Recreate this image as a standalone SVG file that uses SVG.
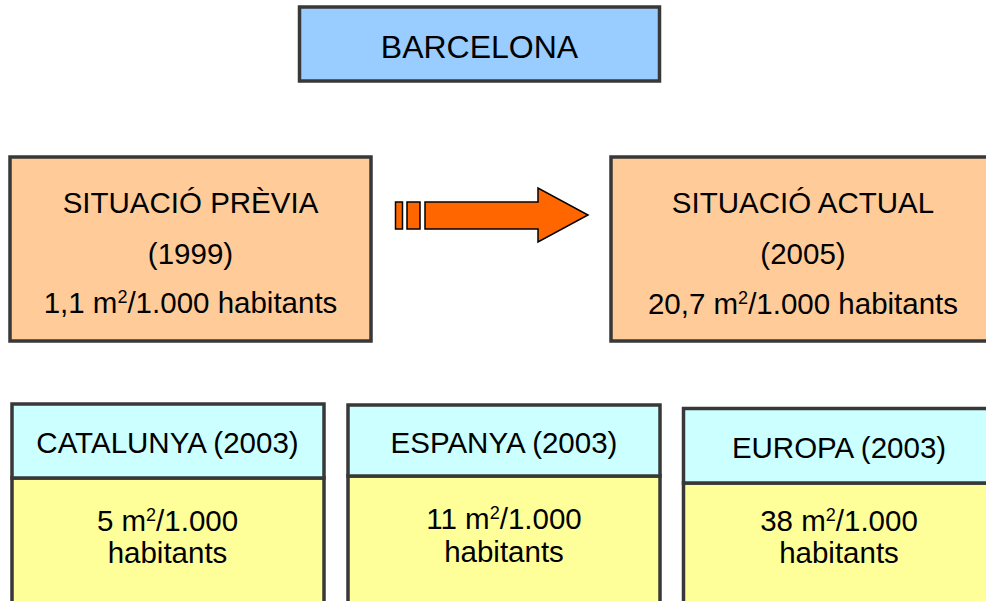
<svg xmlns="http://www.w3.org/2000/svg" width="986" height="601" viewBox="0 0 986 601">
<style>
  text { font-family: "Liberation Sans", Arial, sans-serif; fill: #000; text-anchor: middle; }
  .t { font-size: 29.5px; }
  .big { font-size: 32px; }
  .sup { font-size: 18px; }
  .box { stroke: #383838; stroke-width: 3.5; }
  .blue { fill: #99ccff; }
  .orange { fill: #ffcc99; }
  .cyan { fill: #ccffff; }
  .yellow { fill: #ffff99; }
  .arrow { fill: #ff6600; stroke: #000; stroke-width: 1.5; stroke-linejoin: miter; }
</style>
<rect width="986" height="601" fill="#fff"/>

<g id="barcelona">
  <rect class="box blue" x="299.5" y="7" width="360" height="74"/>
  <text class="big" x="479.5" y="58">BARCELONA</text>
</g>

<g id="previa">
  <rect class="box orange" x="10" y="157" width="361" height="184"/>
  <text class="t" x="190.5" y="213">SITUACIÓ PRÈVIA</text>
  <text class="t" x="190.5" y="264">(1999)</text>
  <text class="t" x="190.5" y="313">1,1 m<tspan class="sup" dy="-10">2</tspan><tspan dy="10">/1.000 habitants</tspan></text>
</g>

<g id="actual">
  <rect class="box orange" x="611" y="157" width="384" height="184"/>
  <text class="t" x="803" y="213">SITUACIÓ ACTUAL</text>
  <text class="t" x="803" y="264">(2005)</text>
  <text class="t" x="803" y="314">20,7 m<tspan class="sup" dy="-10">2</tspan><tspan dy="10">/1.000 habitants</tspan></text>
</g>

<g id="connectors">
  <rect class="arrow" x="395.5" y="202" width="7" height="27"/>
  <rect class="arrow" x="407" y="202" width="13" height="27"/>
  <polygon class="arrow" points="425,202 538,202 538,188 588,215 538,242 538,229 425,229"/>
</g>

<g id="catalunya">
  <rect class="box yellow" x="12" y="478" width="312" height="140"/>
  <rect class="box cyan" x="12" y="404" width="312" height="74"/>
  <text class="t" x="167.5" y="453">CATALUNYA (2003)</text>
  <text class="t" x="167.5" y="531">5 m<tspan class="sup" dy="-10">2</tspan><tspan dy="10">/1.000</tspan></text>
  <text class="t" x="167.5" y="563">habitants</text>
</g>

<g id="espanya">
  <rect class="box yellow" x="348" y="476" width="312" height="140"/>
  <rect class="box cyan" x="348" y="405" width="312" height="71"/>
  <text class="t" x="504" y="453">ESPANYA (2003)</text>
  <text class="t" x="504" y="529">11 m<tspan class="sup" dy="-10">2</tspan><tspan dy="10">/1.000</tspan></text>
  <text class="t" x="504" y="562">habitants</text>
</g>

<g id="europa">
  <rect class="box yellow" x="683.5" y="483" width="312" height="140"/>
  <rect class="box cyan" x="683.5" y="408.5" width="312" height="74.5"/>
  <text class="t" x="839" y="458">EUROPA (2003)</text>
  <text class="t" x="839" y="531">38 m<tspan class="sup" dy="-10">2</tspan><tspan dy="10">/1.000</tspan></text>
  <text class="t" x="839" y="563">habitants</text>
</g>
</svg>
